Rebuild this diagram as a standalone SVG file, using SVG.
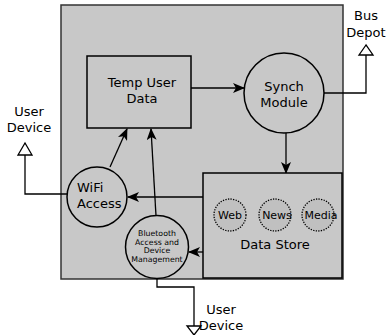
<svg xmlns="http://www.w3.org/2000/svg" width="386" height="335" viewBox="0 0 386 335">
  <defs>
    <style>
      .lbl { font-family: "DejaVu Sans", "Liberation Sans", sans-serif; font-size: 13px; fill: #000; text-anchor: middle; }
      .small { font-size: 7.8px; }
      .tiny { font-size: 11px; }
      .shape { fill: #c8c8c8; stroke: #000; stroke-width: 1.5; }
      .store { fill: #c0c0c0; stroke: #000; stroke-width: 1.3; stroke-dasharray: 1.3 1.3; }
      .wire { fill: none; stroke: #000; stroke-width: 1.3; }
      .ext { fill: #fff; stroke: #000; stroke-width: 1.3; }
    </style>
    <marker id="head" viewBox="0 0 12 10" refX="11" refY="5" markerWidth="12" markerHeight="10" markerUnits="userSpaceOnUse" orient="auto">
      <path d="M0,0 L12,5 L0,10 L3,5 Z" fill="#000"/>
    </marker>
  </defs>

  <!-- system boundary -->
  <rect id="system" x="61" y="5" width="282" height="274" fill="#c8c8c8" stroke="#333" stroke-width="1.5"/>

  <!-- connectors -->
  <g id="connectors">
    <line class="wire" x1="191" y1="88" x2="244" y2="88" marker-end="url(#head)"/>
    <line class="wire" x1="286" y1="133" x2="286" y2="173" marker-end="url(#head)"/>
    <line class="wire" x1="203" y1="197" x2="128" y2="197" marker-end="url(#head)"/>
    <line class="wire" x1="203" y1="252" x2="189" y2="252" marker-end="url(#head)"/>
    <line class="wire" x1="110" y1="167" x2="127" y2="129" marker-end="url(#head)"/>
    <line class="wire" x1="156" y1="216" x2="151" y2="129" marker-end="url(#head)"/>
    <!-- external links -->
    <polyline class="wire" points="324,93 366,93 366,45"/>
    <path class="ext" d="M366,45 L359,55 L373,55 Z"/>
    <polyline class="wire" points="67,194 25,194 25,143"/>
    <path class="ext" d="M25,143 L18,155 L32,155 Z"/>
    <polyline class="wire" points="157,279 157,287 194,287 194,335"/>
    <path class="ext" d="M194,335 L187,326 L201,326 Z"/>
  </g>

  <!-- nodes -->
  <g id="temp-user-data">
    <rect class="shape" x="87" y="56" width="104" height="72"/>
    <text class="lbl" x="142" y="87">Temp User</text>
    <text class="lbl" x="142" y="103">Data</text>
  </g>

  <g id="synch-module">
    <circle class="shape" cx="284" cy="93" r="40"/>
    <text class="lbl" x="284" y="91">Synch</text>
    <text class="lbl" x="284" y="107">Module</text>
  </g>

  <g id="data-store">
    <rect class="shape" x="203" y="173" width="139" height="105"/>
    <circle class="store" cx="230" cy="215" r="16"/>
    <circle class="store" cx="275" cy="215" r="16"/>
    <circle class="store" cx="318" cy="215" r="16"/>
    <text class="lbl tiny" x="230" y="219">Web</text>
    <text class="lbl tiny" x="277" y="219">News</text>
    <text class="lbl tiny" x="321" y="219">Media</text>
    <text class="lbl" x="275" y="249">Data Store</text>
  </g>

  <g id="wifi-access">
    <circle class="shape" cx="97" cy="197" r="30"/>
    <text class="lbl" x="77" y="192" style="text-anchor:start">WiFi</text>
    <text class="lbl" x="77" y="208" style="text-anchor:start">Access</text>
  </g>

  <g id="bluetooth">
    <circle class="shape" cx="157" cy="247" r="31.5"/>
    <text class="lbl small" x="157" y="236">Bluetooth</text>
    <text class="lbl small" x="157" y="245">Access and</text>
    <text class="lbl small" x="157" y="253">Device</text>
    <text class="lbl small" x="157" y="262">Management</text>
  </g>

  <g id="bus-depot">
    <text class="lbl" x="366" y="20">Bus</text>
    <text class="lbl" x="366" y="37">Depot</text>
  </g>

  <g id="user-device-wifi">
    <text class="lbl" x="29" y="116">User</text>
    <text class="lbl" x="29" y="132">Device</text>
  </g>

  <g id="user-device-bt">
    <text class="lbl" x="221" y="314">User</text>
    <text class="lbl" x="221" y="330">Device</text>
  </g>
</svg>
